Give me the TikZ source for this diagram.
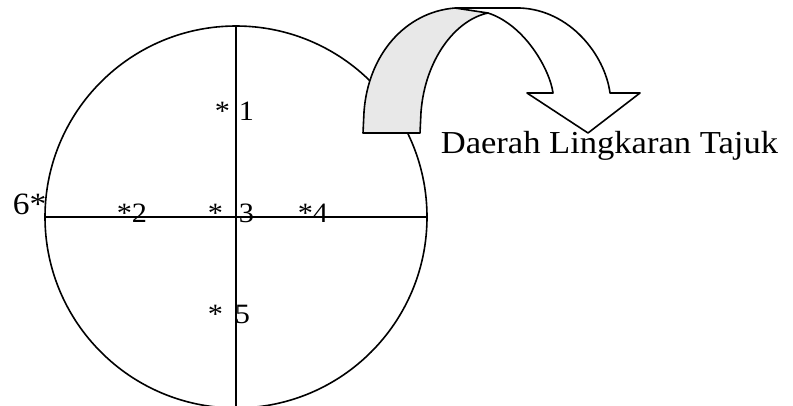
\documentclass[tikz,border=0pt]{standalone}
\usepackage{fontspec}
\setmainfont[FakeStretch=1.08]{Liberation Serif}
\usetikzlibrary{positioning}

\begin{document}
\begin{tikzpicture}[x=1pt, y=-1pt, line width=1.6pt,
    lbl/.style={font=\fontsize{28}{28}\selectfont, inner sep=0pt, anchor=base west},
    band/.style={line width=1.6pt, line join=round}]
  \useasboundingbox (0,0) rectangle (793,405);
  % lingkaran tajuk dan sumbu
  \node[draw, circle, minimum size=382pt, inner sep=0pt] (tajuk) at (236,217) {};
  \draw (tajuk.west) -- (tajuk.east);
  \draw (tajuk.north) -- (tajuk.south);
  % titik-titik
  \node[lbl] (p1) at (214,120) {*\hspace{9pt}1};
  \node[lbl] (p2) at (116,222) {*2};
  \node[lbl] (p3) at (207,222) {*\hspace{16pt}3};
  \node[lbl] (p4) at (297,222) {*4};
  \node[lbl] (p5) at (207,323) {*\hspace{12pt}5};
  \node[lbl, font=\fontsize{31}{31}\selectfont] (p6) at (12,214) {6*};
  % panah lengkung
  \filldraw[band, fill=white] (488,13) .. controls (525,25) and (550,70) .. (553,93)
      -- (527,93) -- (588,133) -- (640,93) -- (610,93)
      .. controls (605,55) and (570,10) .. (520,8) -- (455,8);
  \filldraw[band, fill=gray!18] (363,133) -- (364,112)
      .. controls (368,55) and (405,12) .. (455,8) -- (488,13)
      .. controls (455,20) and (425,60) .. (421,112) -- (420,133) -- cycle;
  \node[font=\fontsize{32}{32}\selectfont, inner sep=0pt, anchor=base west]
      (judul) at (440,153) {Daerah Lingkaran Tajuk};
\end{tikzpicture}
\end{document}
